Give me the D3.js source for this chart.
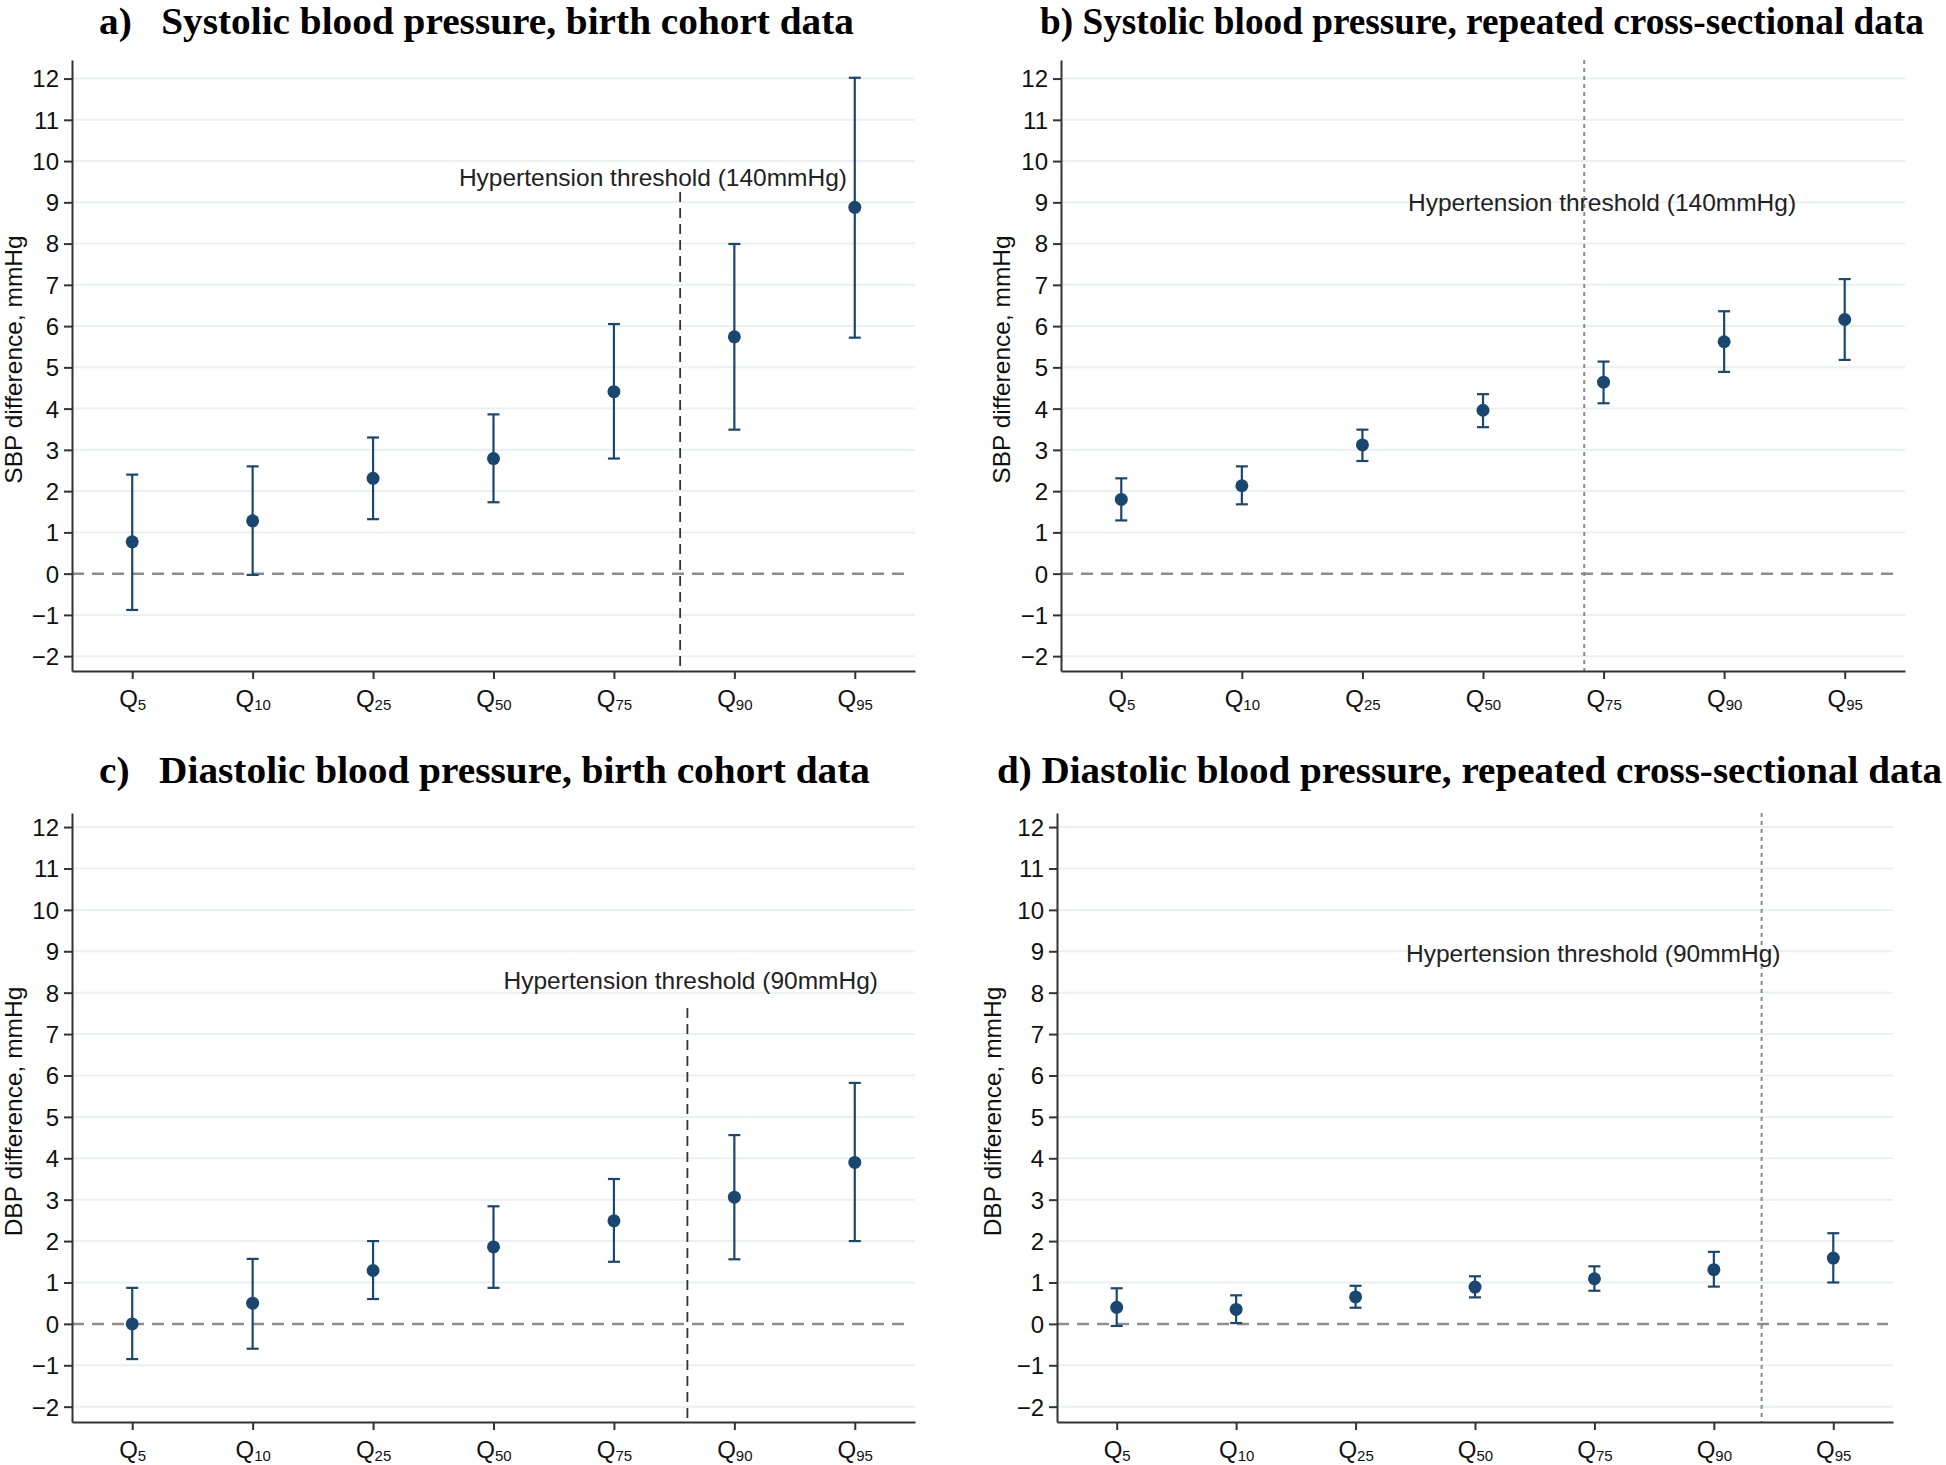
<!DOCTYPE html>
<html lang="en">
<head>
    <meta charset="UTF-8">
    <title>Blood pressure differences by quantile</title>
    <script src="https://cdn.jsdelivr.net/npm/d3@7"></script>
    <style>
        body { margin: 0; background: #fff; }
        svg { display: block; }
    </style>
</head>
<body>
    <div id="chart"></div>
    <script>
        // Quantile categories (same on every panel)
        const quantiles = ["5", "10", "25", "50", "75", "90", "95"];
        const yTicks = [-2, -1, 0, 1, 2, 3, 4, 5, 6, 7, 8, 9, 10, 11, 12];

        // a) SBP, birth cohort
        const sbpCohortEst = [0.77, 1.28, 2.31, 2.79, 4.41, 5.74, 8.88];
        const sbpCohortLo  = [-0.88, -0.03, 1.32, 1.73, 2.79, 3.49, 5.72];
        const sbpCohortHi  = [2.4, 2.6, 3.3, 3.86, 6.05, 7.99, 12.02];

        // b) SBP, repeated cross-sectional
        const sbpCrossEst = [1.8, 2.13, 3.12, 3.96, 4.64, 5.62, 6.16];
        const sbpCrossLo  = [1.29, 1.68, 2.73, 3.55, 4.13, 4.89, 5.18];
        const sbpCrossHi  = [2.31, 2.6, 3.49, 4.35, 5.14, 6.36, 7.14];

        // c) DBP, birth cohort
        const dbpCohortEst = [0.0, 0.5, 1.29, 1.86, 2.49, 3.06, 3.9];
        const dbpCohortLo  = [-0.85, -0.6, 0.6, 0.87, 1.5, 1.56, 2.0];
        const dbpCohortHi  = [0.87, 1.57, 2.0, 2.84, 3.5, 4.56, 5.82];

        // d) DBP, repeated cross-sectional
        const dbpCrossEst = [0.4, 0.35, 0.65, 0.89, 1.09, 1.31, 1.59];
        const dbpCrossLo  = [-0.05, 0.02, 0.39, 0.64, 0.8, 0.9, 1.0];
        const dbpCrossHi  = [0.86, 0.69, 0.92, 1.15, 1.39, 1.74, 2.19];

        // threshold positions, in category units (0 = Q5)
        const thresholdPos = [4.55, 3.84, 4.61, 5.4];

        const width = 1946;
        const height = 1465;
        const navy = "#1a476f";
        const sans = "Liberation Sans, Arial, sans-serif";

        const svg = d3.select("#chart")
            .append("svg")
            .attr("width", width)
            .attr("height", height);

        const panels = [
            {
                title: "a)   Systolic blood pressure, birth cohort data", titleX: 99, titleY: 34, titleW: 755,
                ylab: "SBP difference, mmHg", ylabX: 22,
                left: 72, right: 915, top: 60, bottom: 671, yMin: -2.36, yMax: 12.45,
                est: sbpCohortEst, lo: sbpCohortLo, hi: sbpCohortHi, thr: thresholdPos[0],
                thrStyle: "long", thrTop: 192,
                label: "Hypertension threshold (140mmHg)", labelX: 847, labelY: 186, labelAnchor: "end"
            },
            {
                title: "b) Systolic blood pressure, repeated cross-sectional data", titleX: 1040, titleY: 34, titleW: 884,
                ylab: "SBP difference, mmHg", ylabX: 1010,
                left: 1061, right: 1905, top: 60, bottom: 671, yMin: -2.36, yMax: 12.45,
                est: sbpCrossEst, lo: sbpCrossLo, hi: sbpCrossHi, thr: thresholdPos[1],
                thrStyle: "dot", thrTop: 60,
                label: "Hypertension threshold (140mmHg)", labelX: 1408, labelY: 211, labelAnchor: "start"
            },
            {
                title: "c)   Diastolic blood pressure, birth cohort data", titleX: 99, titleY: 783, titleW: 771,
                ylab: "DBP difference, mmHg", ylabX: 22,
                left: 72, right: 915, top: 813, bottom: 1422, yMin: -2.37, yMax: 12.34,
                est: dbpCohortEst, lo: dbpCohortLo, hi: dbpCohortHi, thr: thresholdPos[2],
                thrStyle: "long", thrTop: 1008,
                label: "Hypertension threshold (90mmHg)", labelX: 878, labelY: 989, labelAnchor: "end"
            },
            {
                title: "d) Diastolic blood pressure, repeated cross-sectional data", titleX: 997, titleY: 783, titleW: 945,
                ylab: "DBP difference, mmHg", ylabX: 1001,
                left: 1057, right: 1893, top: 813, bottom: 1422, yMin: -2.37, yMax: 12.34,
                est: dbpCrossEst, lo: dbpCrossLo, hi: dbpCrossHi, thr: thresholdPos[3],
                thrStyle: "dot", thrTop: 813,
                label: "Hypertension threshold (90mmHg)", labelX: 1406, labelY: 962, labelAnchor: "start"
            }
        ];

        panels.forEach(p => drawPanel(p));

        function drawPanel(p) {
            const g = svg.append("g");

            const x = d3.scalePoint()
                .domain(quantiles)
                .range([p.left, p.right])
                .padding(0.5);

            const y = d3.scaleLinear()
                .domain([p.yMin, p.yMax])
                .range([p.bottom, p.top]);

            // gridlines
            g.append("g")
                .selectAll("line")
                .data(yTicks.filter(d => d !== 0))
                .join("line")
                .attr("x1", p.left)
                .attr("x2", p.right)
                .attr("y1", d => y(d))
                .attr("y2", d => y(d))
                .attr("stroke", "#e8f0f2")
                .attr("stroke-width", 2);

            // zero reference line
            g.append("line")
                .attr("x1", p.left)
                .attr("x2", p.right - 5)
                .attr("y1", y(0))
                .attr("y2", y(0))
                .attr("stroke", "#8e8e8e")
                .attr("stroke-width", 2.5)
                .attr("stroke-dasharray", "12,8");

            // threshold line
            const tx = x(quantiles[0]) + p.thr * x.step();
            g.append("line")
                .attr("x1", tx)
                .attr("x2", tx)
                .attr("y1", p.thrTop)
                .attr("y2", p.bottom)
                .attr("stroke", p.thrStyle === "long" ? "#333" : "#8a8a8a")
                .attr("stroke-width", p.thrStyle === "long" ? 1.8 : 2)
                .attr("stroke-dasharray", p.thrStyle === "long" ? "10,6" : "4,4");

            g.append("text")
                .attr("x", p.labelX)
                .attr("y", p.labelY)
                .attr("text-anchor", p.labelAnchor)
                .attr("font-family", sans)
                .attr("font-size", 24.5)
                .attr("fill", "#222")
                .text(p.label);

            // axes
            const yAxis = g.append("g")
                .attr("transform", `translate(${p.left},0)`)
                .call(d3.axisLeft(y).tickValues(yTicks).tickSize(8).tickSizeOuter(0).tickPadding(5));

            const xAxis = g.append("g")
                .attr("transform", `translate(0,${p.bottom})`)
                .call(d3.axisBottom(x).tickSize(8).tickSizeOuter(0).tickPadding(9));

            [yAxis, xAxis].forEach(ax => {
                ax.select(".domain").attr("stroke", "#333").attr("stroke-width", 2);
                ax.selectAll(".tick line").attr("stroke", "#333").attr("stroke-width", 2);
                ax.selectAll(".tick text")
                    .attr("fill", "#111")
                    .attr("font-family", sans)
                    .attr("font-size", 24);
            });
            yAxis.selectAll(".tick text").attr("dy", "0.35em");

            // Q with subscript
            xAxis.selectAll(".tick text")
                .attr("dy", "0.78em")
                .text(null)
                .each(function (d) {
                    const t = d3.select(this);
                    t.append("tspan").text("Q");
                    t.append("tspan")
                        .attr("font-size", 15)
                        .attr("dy", 3)
                        .text(d);
                });

            // y axis title
            g.append("text")
                .attr("transform", `translate(${p.ylabX},${(p.top + p.bottom) / 2 - 6}) rotate(-90)`)
                .attr("text-anchor", "middle")
                .attr("font-family", sans)
                .attr("font-size", 24.5)
                .attr("fill", "#111")
                .text(p.ylab);

            // error bars
            const bars = g.append("g")
                .selectAll("g")
                .data(quantiles.map((q, i) => ({ q, est: p.est[i], lo: p.lo[i], hi: p.hi[i] })))
                .join("g")
                .attr("stroke", navy)
                .attr("stroke-width", 2.2);

            bars.append("line")
                .attr("x1", d => x(d.q))
                .attr("x2", d => x(d.q))
                .attr("y1", d => y(d.lo))
                .attr("y2", d => y(d.hi));
            bars.append("line")
                .attr("x1", d => x(d.q) - 6)
                .attr("x2", d => x(d.q) + 6)
                .attr("y1", d => y(d.hi))
                .attr("y2", d => y(d.hi));
            bars.append("line")
                .attr("x1", d => x(d.q) - 6)
                .attr("x2", d => x(d.q) + 6)
                .attr("y1", d => y(d.lo))
                .attr("y2", d => y(d.lo));

            g.append("g")
                .selectAll("circle")
                .data(quantiles)
                .join("circle")
                .attr("cx", d => x(d))
                .attr("cy", (d, i) => y(p.est[i]))
                .attr("r", 6.5)
                .attr("fill", navy);

            // panel title
            svg.append("text")
                .attr("x", p.titleX)
                .attr("y", p.titleY)
                .attr("font-family", "Liberation Serif, Times New Roman, serif")
                .attr("font-weight", "bold")
                .attr("font-size", 37)
                .attr("textLength", p.titleW)
                .attr("lengthAdjust", "spacingAndGlyphs")
                .style("white-space", "pre")
                .attr("fill", "#000")
                .text(p.title);
        }
    </script>
</body>
</html>
